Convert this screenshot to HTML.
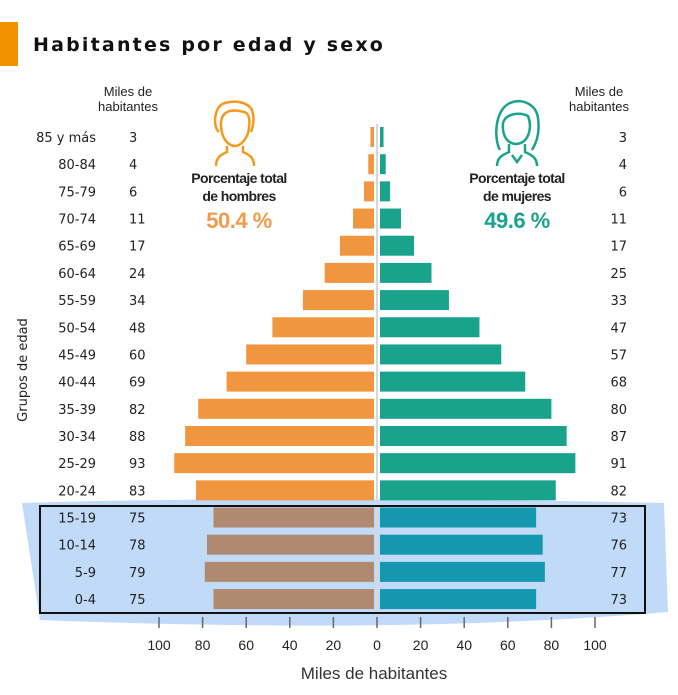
<!DOCTYPE html>
<html><head><meta charset="utf-8"><style>
body{margin:0;background:#fff;}
svg{display:block;font-family:"Liberation Sans",sans-serif;}
</style></head><body>
<svg width="678" height="695" viewBox="0 0 678 695">
<rect x="0" y="22" width="18" height="44" fill="#f39200"/>
<text x="33" y="51" font-size="19" font-weight="bold" letter-spacing="2.2" fill="#111" font-family="DejaVu Sans, sans-serif">Habitantes por edad y sexo</text>
<path d="M22,503 C200,497 500,499 664,503 L668,612 C500,626 300,630 40,620 Z" fill="#b9d6f7" opacity="0.9"/>
<line x1="377" y1="124" x2="377" y2="612" stroke="#d8d8d8" stroke-width="2"/>
<g font-size="13" fill="#222" text-anchor="middle">
<text x="128" y="96">Miles de</text>
<text x="128" y="111">habitantes</text>
<text x="599" y="96">Miles de</text>
<text x="599" y="111">habitantes</text>
</g>
<text transform="translate(27,370) rotate(-90)" font-size="13" fill="#222" text-anchor="middle" font-family="DejaVu Sans, sans-serif">Grupos de edad</text>
<g fill="none" stroke="#f39a1e" stroke-width="2.5">
<path d="M219,132 C213,128 213,106 225,103 C235,100 248,102 252,110 C254,116 254,124 251,132"/>
<path d="M221,124 C221,112 230,108 244,112 C249,113 250,120 249,128 C248,138 241,146 235,146 C228,146 221,138 221,124 Z"/>
<path d="M227,146 L227,152 C220,155 216,158 216,166 M243,146 L243,152 C250,155 254,158 254,166"/>
</g>
<g fill="none" stroke="#1aa38c" stroke-width="2.5">
<path d="M500,150 C494,140 494,110 510,103 C522,98 536,104 538,118 C540,132 537,142 532,150"/>
<path d="M503,123 C506,113 520,112 528,116 C532,126 530,142 517,144 C506,144 502,134 503,123 Z"/>
<path d="M509,144 L509,152 C502,155 497,158 497,166 M525,144 L525,152 C532,155 537,158 537,166 M512,155 L517,162 L522,155"/>
</g>
<g font-size="14" font-weight="bold" fill="#222" text-anchor="middle" letter-spacing="-0.6">
<text x="239" y="183">Porcentaje total</text>
<text x="239" y="201">de hombres</text>
<text x="517" y="183">Porcentaje total</text>
<text x="517" y="201">de mujeres</text>
</g>
<text x="239" y="228" font-size="22" font-weight="bold" fill="#f39a4a" text-anchor="middle" letter-spacing="-0.5">50.4 %</text>
<text x="517" y="228" font-size="22" font-weight="bold" fill="#1aa38c" text-anchor="middle" letter-spacing="-0.5">49.6 %</text>
<g id="bars" font-family="DejaVu Sans, sans-serif"></g>
<rect x="40" y="506" width="605" height="107" fill="none" stroke="#111" stroke-width="2"/>
<g id="axis"></g>
<text x="374" y="679" font-size="17" fill="#333" text-anchor="middle">Miles de habitantes</text>
</svg>
<script>
const ageGroups=["85 y más","80-84","75-79","70-74","65-69","60-64","55-59","50-54","45-49","40-44","35-39","30-34","25-29","20-24","15-19","10-14","5-9","0-4"];
const maleValues=[3,4,6,11,17,24,34,48,60,69,82,88,93,83,75,78,79,75];
const femaleValues=[3,4,6,11,17,25,33,47,57,68,80,87,91,82,73,76,77,73];
const tickValues=[100,80,60,40,20,0,20,40,60,80,100];
const highlighted=["15-19","10-14","5-9","0-4"];
const NS="http://www.w3.org/2000/svg";
const cx=377,k=2.18,y0=137,step=27.18,bh=20;
const xl=v=>cx-v*k, xr=v=>cx+v*k, yr=i=>y0+i*step;
const bars=document.getElementById('bars');
function mk(tag,attrs,parent){const e=document.createElementNS(NS,tag);for(const a in attrs)e.setAttribute(a,attrs[a]);parent.appendChild(e);return e;}
ageGroups.forEach((g,i)=>{
  const hi=highlighted.includes(g);
  const y=yr(i);
  const m=mk('rect',{x:xl(maleValues[i]),y:y-bh/2,width:Math.max(0,(cx-3)-xl(maleValues[i])),height:bh,fill:hi?'#b08a70':'#f0963f'},bars);
  
  
  const f=mk('rect',{x:cx+3,y:y-bh/2,width:Math.max(0,xr(femaleValues[i])-(cx+3)),height:bh,fill:hi?'#1597b0':'#1aa38c'},bars);
  
  
  const t1=mk('text',{x:96,y:y+5,'font-size':13,fill:'#222','text-anchor':'end'},bars);t1.textContent=g;
  
  
  const t2=mk('text',{x:129,y:y+5,'font-size':13,fill:'#222'},bars);t2.textContent=maleValues[i];
  
  
  const t3=mk('text',{x:627,y:y+5,'font-size':13,fill:'#222','text-anchor':'end'},bars);t3.textContent=femaleValues[i];
  
  
});
const axis=document.getElementById('axis');
tickValues.forEach((v,i)=>{
  const x=i<5?xl(v):xr(v);
  const l=mk('line',{x1:x,y1:617,x2:x,y2:628,stroke:'#666','stroke-width':1.5},axis);
  
  
  const t=mk('text',{x:x,y:650,'font-size':14,fill:'#222','text-anchor':'middle'},axis);t.textContent=v;
  
  
});
</script>
</body></html>
